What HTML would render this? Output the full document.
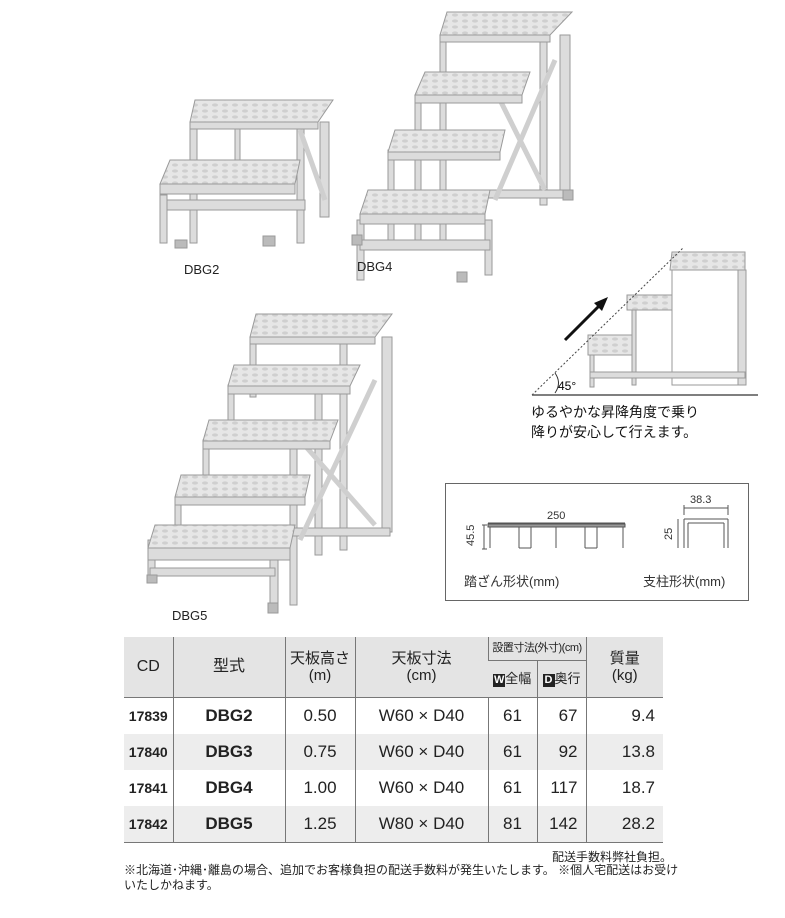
<!DOCTYPE html>
<html><head><meta charset="utf-8"><style>
body{margin:0;width:785px;height:918px;background:#fff;overflow:hidden;position:relative;font-family:"Liberation Sans","Noto Sans CJK JP",sans-serif;color:#222}
.a{position:absolute;white-space:nowrap}
table{position:absolute;left:124px;top:637px;border-collapse:collapse;font-size:17px;table-layout:fixed;width:539px}
td{border-left:1px solid #777;text-align:center;padding:0;height:36px;line-height:18px;overflow:hidden;white-space:nowrap}
td:first-child{border-left:none}
.h td{background:#e4e4e4;font-size:14px;line-height:17px}
.g td{background:#ededed}
.b{font-weight:bold;font-family:"Liberation Sans Narrow","Liberation Sans",sans-serif}
.k{display:inline-block;background:#222;color:#fff;font-size:11px;width:12px;line-height:13px;font-weight:bold}
</style></head><body>
<svg width="785" height="918" style="position:absolute;left:0;top:0">
<defs>
<pattern id="p" width="10" height="6" patternUnits="userSpaceOnUse"><rect width="10" height="6" fill="#e6e6e6"/><ellipse cx="5" cy="3" rx="3" ry="1.6" fill="#cfcfcf"/></pattern>
</defs>
<g stroke="#9a9a9a" stroke-width="1" fill="#dcdcdc">
<rect x="320" y="122" width="9" height="95"/><rect x="297" y="128" width="7" height="115"/><rect x="190" y="128" width="7" height="115"/><rect x="235" y="122" width="5" height="40"/>
<rect x="160" y="200" width="145" height="10"/><rect x="160" y="195" width="7" height="48"/>
<line x1="300" y1="130" x2="325" y2="200" stroke-width="5" stroke="#cfcfcf"/>
<polygon points="195,100 333,100 318,122 190,122" fill="url(#p)"/><rect x="190" y="122" width="128" height="7"/>
<polygon points="170,160 300,160 295,184 160,184" fill="url(#p)"/><rect x="160" y="184" width="135" height="10"/>
<rect x="175" y="240" width="12" height="8" fill="#bbb"/><rect x="263" y="236" width="12" height="10" fill="#bbb"/>
<rect x="560" y="35" width="10" height="160"/><rect x="540" y="40" width="7" height="165"/><rect x="440" y="35" width="6" height="215"/><rect x="415" y="95" width="6" height="150"/><rect x="388" y="150" width="6" height="100"/>
<rect x="357" y="220" width="7" height="60"/><rect x="485" y="220" width="7" height="55"/><rect x="360" y="240" width="130" height="10"/>
<rect x="420" y="190" width="145" height="8"/>
<line x1="495" y1="200" x2="555" y2="60" stroke-width="5" stroke="#cfcfcf"/><line x1="500" y1="100" x2="545" y2="190" stroke-width="5" stroke="#cfcfcf"/>
<polygon points="447,12 572,12 550,35 440,35" fill="url(#p)"/><rect x="440" y="35" width="110" height="7"/>
<polygon points="425,72 530,72 522,95 415,95" fill="url(#p)"/><rect x="415" y="95" width="107" height="8"/>
<polygon points="395,130 505,130 500,152 388,152" fill="url(#p)"/><rect x="388" y="152" width="112" height="8"/>
<polygon points="368,190 490,190 485,214 360,214" fill="url(#p)"/><rect x="360" y="214" width="125" height="10"/>
<rect x="352" y="235" width="10" height="10" fill="#bbb"/><rect x="457" y="272" width="10" height="10" fill="#bbb"/><rect x="563" y="190" width="10" height="10" fill="#bbb"/>
<rect x="382" y="337" width="10" height="195"/><rect x="250" y="337" width="6" height="60"/><rect x="228" y="385" width="6" height="60"/><rect x="203" y="440" width="6" height="60"/><rect x="175" y="497" width="6" height="45"/>
<rect x="340" y="340" width="7" height="210"/><rect x="315" y="390" width="7" height="165"/><rect x="290" y="445" width="7" height="160"/>
<rect x="148" y="540" width="7" height="40"/><rect x="270" y="550" width="8" height="55"/><rect x="150" y="568" width="125" height="8"/>
<rect x="290" y="528" width="100" height="8"/>
<line x1="300" y1="540" x2="375" y2="380" stroke-width="5" stroke="#cfcfcf"/><line x1="300" y1="440" x2="375" y2="525" stroke-width="5" stroke="#cfcfcf"/>
<polygon points="256,314 392,314 375,337 250,337" fill="url(#p)"/><rect x="250" y="337" width="125" height="7"/>
<polygon points="234,365 360,365 350,386 228,386" fill="url(#p)"/><rect x="228" y="386" width="122" height="8"/>
<polygon points="209,420 338,420 330,441 203,441" fill="url(#p)"/><rect x="203" y="441" width="127" height="8"/>
<polygon points="181,475 310,475 305,497 175,497" fill="url(#p)"/><rect x="175" y="497" width="130" height="8"/>
<polygon points="155,525 295,525 290,548 148,548" fill="url(#p)"/><rect x="148" y="548" width="142" height="12"/>
<rect x="147" y="575" width="10" height="8" fill="#bbb"/><rect x="268" y="603" width="10" height="10" fill="#bbb"/>
<rect x="672" y="255" width="72" height="130" fill="none"/><rect x="738" y="270" width="8" height="115"/>
<polygon points="672,252 745,252 745,270 670,270" fill="url(#p)"/>
<polygon points="627,295 672,295 672,310 627,310" fill="url(#p)"/><rect x="632" y="310" width="4" height="75"/>
<polygon points="588,335 632,335 632,355 588,355" fill="url(#p)"/><rect x="590" y="355" width="4" height="32"/>
<rect x="590" y="372" width="155" height="6"/>
</g>
<line x1="532" y1="395" x2="683" y2="248" stroke="#444" stroke-dasharray="2,2"/>
<line x1="532" y1="395" x2="758" y2="395" stroke="#555" stroke-width="1.5"/>
<line x1="565" y1="340" x2="602" y2="303" stroke="#111" stroke-width="3"/><polygon points="608,297 594,303 602,311" fill="#111"/>
<path d="M555,373 Q562,383 555,393" fill="none" stroke="#333"/>
<text x="558" y="390" font-size="12" font-family="Liberation Sans">45°</text>
<rect x="445.5" y="483.5" width="303" height="117" fill="none" stroke="#666"/>
<g stroke="#555" fill="none" stroke-width="1">
<line x1="488" y1="523" x2="625" y2="523"/><rect x="488" y="524" width="137" height="3" fill="#999"/>
<path d="M490,527 V548 M623,527 V548 M556,527 V548 M519,527 V548 M531,527 V548 M519,548 H531 M585,527 V548 M597,527 V548 M585,548 H597"/>
<path d="M484,525 V549 M482,525 H487 M482,549 H487"/>
<path d="M684,519 V548 M728,519 V548 M684,519 H728 M688,523 H724 M688,523 V548 M724,523 V548"/>
<path d="M684,508 H728 M684,505 V515 M728,505 V515"/>
<path d="M678,519 V548"/>
</g>
<g font-family="Liberation Sans" font-size="11" fill="#333">
<text x="547" y="519">250</text><text x="690" y="503">38.3</text>
<text transform="translate(474,546) rotate(-90)">45.5</text><text transform="translate(672,540) rotate(-90)">25</text>
</g>
</svg>
<div class="a" style="left:184px;top:262px;font-size:13px">DBG2</div>
<div class="a" style="left:357px;top:259px;font-size:13px">DBG4</div>
<div class="a" style="left:172px;top:608px;font-size:13px">DBG5</div>
<div class="a" style="left:531px;top:402px;font-size:14px;line-height:20px;color:#111">ゆるやかな昇降角度で乗り<br>降りが安心して行えます。</div>
<div class="a" style="left:464px;top:571px;font-size:13px;color:#333">踏ざん形状(mm)</div>
<div class="a" style="left:643px;top:571px;font-size:13px;color:#333">支柱形状(mm)</div>
<table>
<colgroup><col style="width:49px"><col style="width:112px"><col style="width:70px"><col style="width:133px"><col style="width:49px"><col style="width:49px"><col style="width:77px"></colgroup>
<tr class="h" style="height:23px"><td rowspan="2" style="font-size:16px">CD</td><td rowspan="2" style="font-size:16px">型式</td><td rowspan="2" style="font-size:15px">天板高さ<br>(m)</td><td rowspan="2" style="font-size:15px">天板寸法<br>(cm)</td><td colspan="2" style="height:22px;border-bottom:1px solid #777;font-size:11px;letter-spacing:-0.5px">設置寸法(外寸)(cm)</td><td rowspan="2" style="font-size:15px">質量<br>(kg)</td></tr>
<tr class="h"><td style="height:35px;font-size:13px"><span class="k">W</span>全幅</td><td style="font-size:13px"><span class="k">D</span>奥行</td></tr>
<tr style="border-top:1px solid #777"><td class="b" style="font-size:14px">17839</td><td class="b">DBG2</td><td>0.50</td><td>W60 × D40</td><td>61</td><td style="text-align:right;padding-right:8px">67</td><td style="text-align:right;padding-right:8px">9.4</td></tr>
<tr class="g"><td class="b" style="font-size:14px">17840</td><td class="b">DBG3</td><td>0.75</td><td>W60 × D40</td><td>61</td><td style="text-align:right;padding-right:8px">92</td><td style="text-align:right;padding-right:8px">13.8</td></tr>
<tr><td class="b" style="font-size:14px">17841</td><td class="b">DBG4</td><td>1.00</td><td>W60 × D40</td><td>61</td><td style="text-align:right;padding-right:8px">117</td><td style="text-align:right;padding-right:8px">18.7</td></tr>
<tr class="g" style="border-bottom:1px solid #777"><td class="b" style="font-size:14px">17842</td><td class="b">DBG5</td><td>1.25</td><td>W80 × D40</td><td>81</td><td style="text-align:right;padding-right:8px">142</td><td style="text-align:right;padding-right:8px">28.2</td></tr>
</table>
<div class="a" style="left:552px;top:848px;font-size:12px">配送手数料弊社負担。</div>
<div class="a" style="left:124px;top:863px;font-size:12px;line-height:15px">※北海道･沖縄･離島の場合、追加でお客様負担の配送手数料が発生いたします。 ※個人宅配送はお受け<br>いたしかねます。</div>
</body></html>
